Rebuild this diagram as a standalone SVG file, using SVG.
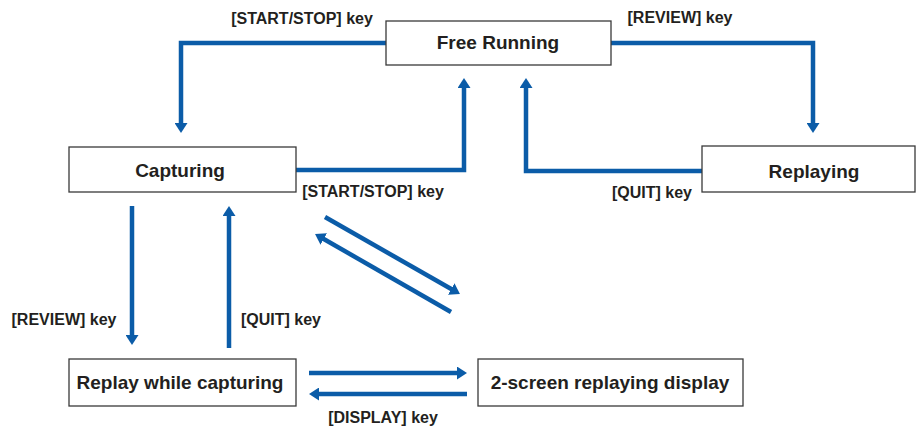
<svg xmlns="http://www.w3.org/2000/svg" width="916" height="430" viewBox="0 0 916 430">
<defs>
<marker id="ah" markerUnits="userSpaceOnUse" markerWidth="10" markerHeight="13" refX="2" refY="6.5" orient="auto">
<path d="M0,0 L10,6.5 L0,13 z" fill="#0b5ca8"/>
</marker>
<style>
.box{fill:#fff;stroke:#3a3a3a;stroke-width:1.3}
.nt{font-family:"Liberation Sans",Arial,sans-serif;font-weight:bold;font-size:19px;fill:#231f20;text-anchor:middle}
.lb{font-family:"Liberation Sans",Arial,sans-serif;font-weight:bold;font-size:16px;fill:#231f20;text-anchor:middle}
.c{fill:none;stroke:#0b5ca8;stroke-width:4.5;marker-end:url(#ah)}
</style>
</defs>
<rect width="916" height="430" fill="#fff"/>
<g id="connectors">
<path class="c" d="M386,43 H181 V125"/>
<path class="c" d="M611,43 H813 V125"/>
<path class="c" d="M296,170 H464 V86"/>
<path class="c" d="M702,171 H526 V86"/>
<path class="c" d="M132,206 V337"/>
<path class="c" d="M229,348 V214"/>
<path class="c" d="M325,217 L453,290"/>
<path class="c" d="M451,312 L322,238"/>
<path class="c" d="M309,373 H459"/>
<path class="c" d="M467,394 H317"/>
</g>
<g id="free-running">
<rect class="box" x="386" y="21" width="225" height="44"/>
<text class="nt" x="498" y="49">Free Running</text>
</g>
<g id="capturing">
<rect class="box" x="69" y="147" width="227" height="45"/>
<text class="nt" x="180" y="177">Capturing</text>
</g>
<g id="replaying">
<rect class="box" x="702" y="146" width="213" height="46"/>
<text class="nt" x="814" y="178">Replaying</text>
</g>
<g id="replay-while-capturing">
<rect class="box" x="69" y="359" width="227" height="47"/>
<text class="nt" x="180" y="389">Replay while capturing</text>
</g>
<g id="two-screen">
<rect class="box" x="478" y="359" width="265" height="47"/>
<text class="nt" x="610" y="389">2-screen replaying display</text>
</g>
<g id="labels">
<text class="lb" x="302" y="24">[START/STOP] key</text>
<text class="lb" x="680" y="23">[REVIEW] key</text>
<text class="lb" x="373" y="197">[START/STOP] key</text>
<text class="lb" x="652" y="198">[QUIT] key</text>
<text class="lb" x="64" y="325">[REVIEW] key</text>
<text class="lb" x="281" y="325">[QUIT] key</text>
<text class="lb" x="383" y="423">[DISPLAY] key</text>
</g>
</svg>
